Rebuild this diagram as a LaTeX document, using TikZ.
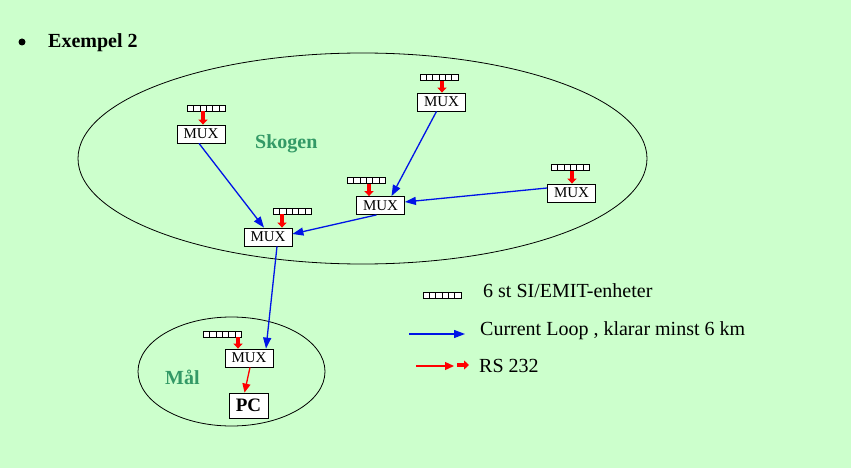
\documentclass[tikz,border=0pt]{standalone}
\usepackage{fontspec}
\setmainfont{Liberation Serif}
\usetikzlibrary{arrows.meta,positioning}
\definecolor{cbg}{RGB}{204,255,204}
\definecolor{cteal}{RGB}{51,153,102}
\definecolor{cblue}{RGB}{0,20,230}

\begin{document}
\begin{tikzpicture}[x=1pt,y=-1pt,>={Triangle[length=11pt,width=8pt]},
  mux node/.style={draw,fill=white,line width=0.8pt,minimum width=48pt,minimum height=18pt,
    inner sep=0pt,font=\fontsize{15}{15}\selectfont},
  pc node/.style={draw,fill=white,line width=0.8pt,minimum width=39pt,minimum height=25pt,
    inner sep=0pt,font=\fontsize{19}{19}\selectfont\bfseries},
  unit node/.style={draw,fill=white,line width=0.8pt,minimum width=38pt,minimum height=6pt,
    inner sep=0pt,path picture={\foreach \k in {1,...,5}
      \draw[line width=0.8pt] ([xshift=\k*6.333pt]path picture bounding box.south west)
        -- ([xshift=\k*6.333pt]path picture bounding box.north west);}},
  loop line/.style={->,cblue,line width=1.3pt},
  rs line/.style={->,red,line width=1.3pt,>={Triangle[length=9pt,width=8pt]}},
  rs thick/.style={->,red,line width=3.5pt,>={Triangle[length=5pt,width=9pt]}},
  area label/.style={inner sep=0pt,font=\fontsize{20}{20}\selectfont\bfseries,text=cteal},
  legend text/.style={inner sep=0pt,font=\fontsize{20}{20}\selectfont}]
  \fill[cbg] (0,0) rectangle (851,468);
  \useasboundingbox (0,0) rectangle (851,468);

  % heading
  \node[circle,fill,inner sep=0pt,minimum size=7pt] (bullet) at (22,42) {};
  \node[anchor=base west,inner sep=0pt,font=\fontsize{20}{20}\selectfont\bfseries] (title) at (48,48) {Exempel 2};

  % areas
  \draw[line width=0.8pt] (362.5,158.5) ellipse (284.5pt and 105.5pt);
  \draw[line width=0.8pt] (231.5,371.5) ellipse (93.5pt and 54.5pt);
  \node[area label,anchor=base west] (skogen) at (255,148) {Skogen};
  \node[area label,anchor=base west] (mal) at (165,384) {Mål};

  % multiplexers
  \node[mux node] (m1) at (201,134) {MUX};
  \node[mux node] (m2) at (441.5,102) {MUX};
  \node[mux node] (m3) at (380.5,205.5) {MUX};
  \node[mux node] (m4) at (571.5,193) {MUX};
  \node[mux node] (m5) at (268,237) {MUX};
  \node[mux node] (m6) at (249,358) {MUX};
  \node[pc node] (pc) at (248.5,405.5) {PC};

  % units
  \node[unit node] (u1) at (206.5,108) {};
  \node[unit node] (u2) at (439,77.5) {};
  \node[unit node] (u3) at (366.5,180.5) {};
  \node[unit node] (u4) at (570.5,167.5) {};
  \node[unit node] (u5) at (292.5,211) {};
  \node[unit node] (u6) at (222.5,334) {};

  \path[rs thick]
    ([xshift=-3.5pt]u1.south) edge ([xshift=2pt]m1.north)
    ([xshift=3pt]u2.south) edge ([xshift=0.5pt]m2.north)
    ([xshift=2.5pt]u3.south) edge ([xshift=-11.5pt]m3.north)
    ([xshift=1.5pt]u4.south) edge ([xshift=0.5pt]m4.north)
    ([xshift=-10.5pt]u5.south) edge ([xshift=14pt]m5.north)
    ([xshift=15.5pt]u6.south) edge ([xshift=-11pt]m6.north);

  \path[loop line]
    ([xshift=-2pt]m1.south) edge ([xshift=-4pt]m5.north)
    ([xshift=-5pt]m2.south) edge ([xshift=11pt]m3.north)
    ([yshift=5pt]m4.west) edge ([yshift=3.5pt]m3.east)
    ([xshift=-4pt]m3.south) edge ([yshift=3pt]m5.east)
    ([xshift=9pt]m5.south) edge ([xshift=17pt]m6.north);
  \draw[rs line] ([xshift=1pt]m6.south) -- ([xshift=-4pt]pc.north);

  % legend
  \node[unit node] (lu) at (442,295.5) {};
  \node[legend text,anchor=base west] (lt1) at (483,297) {6 st SI/EMIT-enheter};
  \node[legend text,anchor=base west] (lt2) at (480,335) {Current Loop , klarar minst 6 km};
  \node[legend text,anchor=base west] (lt3) at (479,372) {RS 232};
  \coordinate (la1) at (409,334);
  \coordinate (la2) at (465,334);
  \coordinate (lr1) at (416,366);
  \coordinate (lr2) at (454,366);
  \coordinate (lr3) at (457,365);
  \coordinate (lr4) at (469,365);
  \draw[loop line] (la1) -- (la2);
  \draw[rs line] (lr1) -- (lr2);
  \draw[rs thick] (lr3) -- (lr4);
\end{tikzpicture}
\end{document}
